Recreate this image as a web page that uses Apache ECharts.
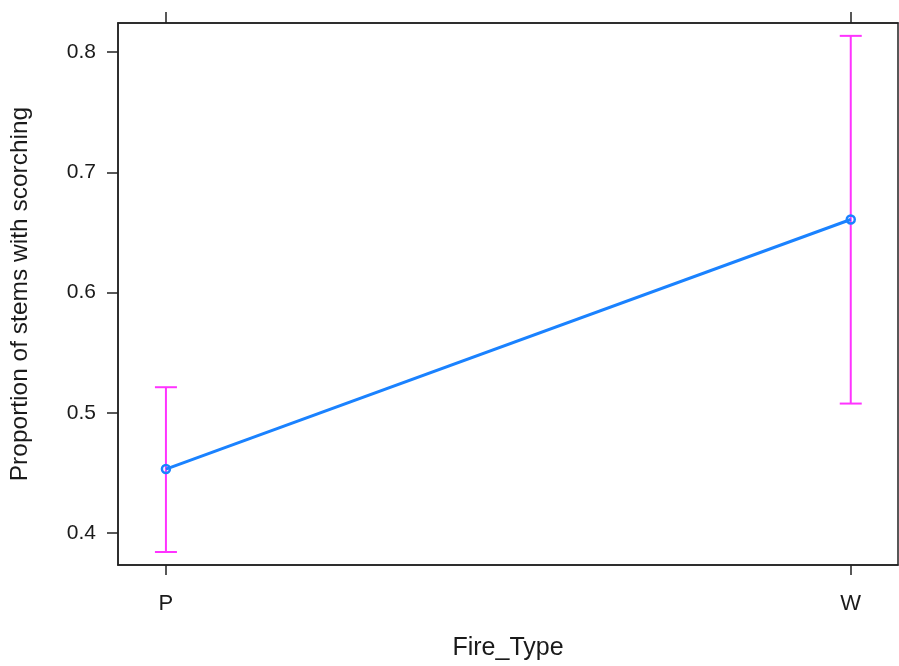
<!DOCTYPE html>
<html>
<head>
<meta charset="utf-8">
<script src="https://cdn.jsdelivr.net/npm/echarts@6/dist/echarts.min.js"></script>
<style>html,body{margin:0;padding:0;background:#fff;}#c{width:899px;height:666px;}</style>
</head>
<body>
<div id="c"></div>
<script>
var categories = ['P', 'W'];
var catPositions = [1, 2];
var means = [0.4532, 0.6608];
var lower = [0.3842, 0.5077];
var upper = [0.5213, 0.8136];
var yTicks = [0.4, 0.5, 0.6, 0.7, 0.8];

var font = 'Liberation Sans, Arial, sans-serif';
var chart = echarts.init(document.getElementById('c'));

var lineData = catPositions.map(function (x, i) { return [x, means[i]]; });
var errData = catPositions.map(function (x, i) { return [x, lower[i], upper[i]]; });

chart.setOption({
  animation: false,
  grid: { left: 118, right: 1, top: 23, bottom: 100, show: true, borderColor: '#222', borderWidth: 1.5 },
  xAxis: [{
    type: 'value', min: 0.93, max: 2.069, position: 'bottom',
    splitLine: { show: false },
    axisLine: { show: true, lineStyle: { color: '#222', width: 1.5 } },
    axisTick: { show: true, inside: false, length: 10, customValues: catPositions, lineStyle: { color: '#222', width: 1.5 } },
    axisLabel: { customValues: catPositions, margin: 28, fontSize: 22, color: '#1a1a1a', fontFamily: font,
      formatter: function (v) { var i = catPositions.indexOf(v); return i >= 0 ? categories[i] : ''; } },
    name: 'Fire_Type', nameLocation: 'middle', nameGap: 71,
    nameTextStyle: { fontSize: 25, color: '#1a1a1a', fontFamily: font }
  }, {
    type: 'value', min: 0.93, max: 2.069, position: 'top',
    splitLine: { show: false },
    axisLine: { show: true, lineStyle: { color: '#222', width: 1.5 } },
    axisTick: { show: true, inside: false, length: 11, customValues: catPositions, lineStyle: { color: '#222', width: 1.5 } },
    axisLabel: { show: false }
  }],
  yAxis: {
    type: 'value', min: 0.3734, max: 0.8243,
    splitLine: { show: false },
    axisLine: { show: true, lineStyle: { color: '#222', width: 1.5 } },
    axisTick: { show: true, inside: false, length: 11, customValues: yTicks, lineStyle: { color: '#222', width: 1.5 } },
    axisLabel: { customValues: yTicks, margin: 22, fontSize: 21, color: '#1a1a1a', fontFamily: font,
      formatter: function (v) { return v.toFixed(1); } },
    name: 'Proportion of stems with scorching', nameLocation: 'middle', nameGap: 85,
    nameTextStyle: { fontSize: 24.5, color: '#1a1a1a', fontFamily: font }
  },
  series: [{
    type: 'custom',
    z: 2,
    data: errData,
    renderItem: function (params, api) {
      var x = api.value(0);
      var lo = api.coord([x, api.value(1)]);
      var hi = api.coord([x, api.value(2)]);
      var w = 11;
      var style = { stroke: '#ff33ff', lineWidth: 2 };
      return {
        type: 'group',
        children: [
          { type: 'line', shape: { x1: lo[0], y1: lo[1], x2: hi[0], y2: hi[1] }, style: style },
          { type: 'line', shape: { x1: lo[0] - w, y1: lo[1], x2: lo[0] + w, y2: lo[1] }, style: style },
          { type: 'line', shape: { x1: hi[0] - w, y1: hi[1], x2: hi[0] + w, y2: hi[1] }, style: style }
        ]
      };
    }
  }, {
    type: 'line',
    z: 3,
    data: lineData,
    symbol: 'circle',
    symbolSize: 8,
    lineStyle: { color: '#1a82ff', width: 3 },
    itemStyle: { color: 'rgba(255,255,255,0)', borderColor: '#1a82ff', borderWidth: 2.5 }
  }]
});
</script>
</body>
</html>
